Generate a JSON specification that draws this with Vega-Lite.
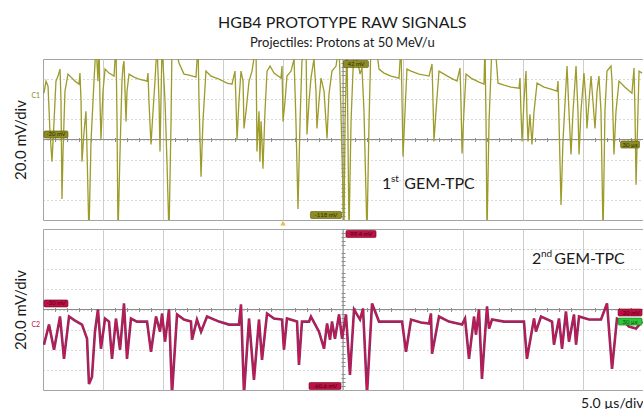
{
  "$schema": "https://vega.github.io/schema/vega-lite/v6.json",
  "background": "white",
  "padding": {"left": 12, "top": 15, "right": 0, "bottom": 0},
  "title": {
    "text": "HGB4 PROTOTYPE RAW SIGNALS",
    "subtitle": "Projectiles: Protons at 50 MeV/u",
    "font": "Lato", "fontSize": 16, "fontWeight": "normal", "color": "#1a1a1a",
    "subtitleFont": "Lato", "subtitleFontSize": 13, "subtitleColor": "#1a1a1a",
    "subtitlePadding": 6, "anchor": "middle", "dx": 14, "offset": 8
  },
  "bounds": "flush",
  "spacing": 9,
  "datasets": {
    "gem1": [{"t":0.08,"mv":46},{"t":0.25,"mv":58},{"t":0.42,"mv":53},{"t":0.58,"mv":8},{"t":0.75,"mv":-22},{"t":0.92,"mv":18},{"t":1.08,"mv":58},{"t":1.25,"mv":63},{"t":1.42,"mv":70},{"t":1.5,"mv":38},{"t":1.58,"mv":-59},{"t":1.67,"mv":-12},{"t":1.83,"mv":48},{"t":2.08,"mv":65},{"t":2.33,"mv":62},{"t":2.67,"mv":58},{"t":3.0,"mv":55},{"t":3.08,"mv":66},{"t":3.17,"mv":38},{"t":3.25,"mv":-22},{"t":3.42,"mv":8},{"t":3.58,"mv":28},{"t":3.67,"mv":-12},{"t":3.83,"mv":-95},{"t":4.0,"mv":-2},{"t":4.25,"mv":58},{"t":4.42,"mv":95},{"t":4.58,"mv":58},{"t":4.67,"mv":95},{"t":4.75,"mv":38},{"t":4.83,"mv":0},{"t":5.0,"mv":48},{"t":5.17,"mv":70},{"t":5.5,"mv":66},{"t":5.92,"mv":63},{"t":6.08,"mv":95},{"t":6.17,"mv":18},{"t":6.25,"mv":-95},{"t":6.42,"mv":-12},{"t":6.58,"mv":58},{"t":6.67,"mv":73},{"t":6.75,"mv":78},{"t":6.92,"mv":18},{"t":7.0,"mv":48},{"t":7.17,"mv":65},{"t":7.58,"mv":62},{"t":8.0,"mv":60},{"t":8.67,"mv":58},{"t":8.75,"mv":66},{"t":8.83,"mv":38},{"t":9.0,"mv":-5},{"t":9.17,"mv":28},{"t":9.33,"mv":58},{"t":9.5,"mv":95},{"t":9.67,"mv":38},{"t":9.75,"mv":-12},{"t":9.83,"mv":38},{"t":9.92,"mv":95},{"t":10.17,"mv":38},{"t":10.33,"mv":-22},{"t":10.5,"mv":-95},{"t":10.67,"mv":18},{"t":10.75,"mv":95},{"t":11.0,"mv":95},{"t":11.33,"mv":76},{"t":11.75,"mv":65},{"t":12.17,"mv":64},{"t":12.75,"mv":62},{"t":12.92,"mv":95},{"t":13.0,"mv":38},{"t":13.17,"mv":-37},{"t":13.33,"mv":18},{"t":13.58,"mv":68},{"t":14.0,"mv":63},{"t":14.67,"mv":60},{"t":15.33,"mv":56},{"t":15.75,"mv":55},{"t":16.0,"mv":68},{"t":16.08,"mv":38},{"t":16.17,"mv":0},{"t":16.33,"mv":38},{"t":16.5,"mv":68},{"t":16.67,"mv":58},{"t":16.75,"mv":11},{"t":16.92,"mv":28},{"t":17.17,"mv":58},{"t":17.42,"mv":68},{"t":17.75,"mv":95},{"t":17.83,"mv":-12},{"t":18.0,"mv":28},{"t":18.08,"mv":-22},{"t":18.17,"mv":18},{"t":18.25,"mv":-2},{"t":18.33,"mv":-29},{"t":18.5,"mv":28},{"t":18.67,"mv":68},{"t":18.92,"mv":73},{"t":19.25,"mv":66},{"t":19.83,"mv":61},{"t":19.92,"mv":73},{"t":20.0,"mv":18},{"t":20.17,"mv":38},{"t":20.33,"mv":63},{"t":20.67,"mv":68},{"t":20.92,"mv":80},{"t":21.08,"mv":18},{"t":21.25,"mv":-69},{"t":21.42,"mv":18},{"t":21.58,"mv":78},{"t":21.92,"mv":95},{"t":22.0,"mv":5},{"t":22.17,"mv":38},{"t":22.33,"mv":61},{"t":22.58,"mv":80},{"t":22.75,"mv":48},{"t":22.83,"mv":11},{"t":23.0,"mv":38},{"t":23.17,"mv":61},{"t":23.42,"mv":48},{"t":23.67,"mv":1},{"t":23.83,"mv":45},{"t":24.08,"mv":68},{"t":24.42,"mv":73},{"t":24.67,"mv":95},{"t":24.83,"mv":28},{"t":25.08,"mv":-95},{"t":25.17,"mv":18},{"t":25.33,"mv":95},{"t":25.5,"mv":-95},{"t":25.67,"mv":18},{"t":25.92,"mv":95},{"t":26.17,"mv":78},{"t":26.33,"mv":71},{"t":26.42,"mv":65},{"t":26.58,"mv":71},{"t":26.75,"mv":28},{"t":26.83,"mv":-12},{"t":27.0,"mv":-95},{"t":27.17,"mv":18},{"t":27.33,"mv":95},{"t":27.75,"mv":95},{"t":28.0,"mv":70},{"t":28.42,"mv":66},{"t":29.0,"mv":63},{"t":29.67,"mv":61},{"t":29.83,"mv":95},{"t":29.92,"mv":38},{"t":30.0,"mv":-17},{"t":30.17,"mv":28},{"t":30.33,"mv":70},{"t":30.67,"mv":68},{"t":31.33,"mv":65},{"t":32.17,"mv":63},{"t":32.42,"mv":75},{"t":32.5,"mv":38},{"t":32.58,"mv":-2},{"t":32.75,"mv":28},{"t":33.0,"mv":68},{"t":33.42,"mv":65},{"t":34.0,"mv":61},{"t":34.5,"mv":58},{"t":34.75,"mv":71},{"t":34.83,"mv":38},{"t":34.92,"mv":-14},{"t":35.08,"mv":28},{"t":35.25,"mv":65},{"t":35.67,"mv":61},{"t":36.33,"mv":57},{"t":36.75,"mv":55},{"t":36.83,"mv":95},{"t":36.92,"mv":18},{"t":37.0,"mv":-95},{"t":37.17,"mv":18},{"t":37.42,"mv":95},{"t":37.67,"mv":95},{"t":37.92,"mv":56},{"t":38.42,"mv":54},{"t":39.0,"mv":52},{"t":39.67,"mv":51},{"t":39.75,"mv":61},{"t":39.83,"mv":28},{"t":39.92,"mv":-2},{"t":40.08,"mv":38},{"t":40.25,"mv":68},{"t":40.33,"mv":25},{"t":40.42,"mv":-2},{"t":40.58,"mv":25},{"t":40.75,"mv":-5},{"t":40.92,"mv":28},{"t":41.17,"mv":56},{"t":41.75,"mv":52},{"t":42.33,"mv":50},{"t":42.83,"mv":48},{"t":42.92,"mv":58},{"t":43.0,"mv":18},{"t":43.17,"mv":-65},{"t":43.33,"mv":-2},{"t":43.67,"mv":73},{"t":43.83,"mv":28},{"t":44.0,"mv":-15},{"t":44.17,"mv":28},{"t":44.42,"mv":73},{"t":44.58,"mv":28},{"t":44.67,"mv":-15},{"t":44.83,"mv":28},{"t":45.08,"mv":66},{"t":45.25,"mv":38},{"t":45.33,"mv":11},{"t":45.5,"mv":38},{"t":45.67,"mv":63},{"t":45.83,"mv":38},{"t":46.0,"mv":11},{"t":46.17,"mv":48},{"t":46.33,"mv":63},{"t":46.5,"mv":28},{"t":46.67,"mv":-95},{"t":46.83,"mv":28},{"t":47.0,"mv":68},{"t":47.33,"mv":73},{"t":47.42,"mv":58},{"t":47.58,"mv":-15},{"t":47.75,"mv":28},{"t":48.0,"mv":58},{"t":48.5,"mv":52},{"t":49.08,"mv":46},{"t":49.25,"mv":71},{"t":49.33,"mv":28},{"t":49.42,"mv":-45},{"t":49.58,"mv":28},{"t":49.67,"mv":68},{"t":49.92,"mv":66}],
    "gem2": [{"t":0.08,"mv":-35},{"t":0.5,"mv":-15},{"t":0.92,"mv":-40},{"t":1.42,"mv":-7},{"t":1.75,"mv":-49},{"t":2.17,"mv":-7},{"t":2.67,"mv":-11},{"t":3.25,"mv":-15},{"t":3.67,"mv":-29},{"t":3.83,"mv":-74},{"t":4.08,"mv":-67},{"t":4.33,"mv":-22},{"t":4.58,"mv":0},{"t":4.83,"mv":-39},{"t":5.17,"mv":-9},{"t":5.5,"mv":-12},{"t":5.75,"mv":-49},{"t":6.08,"mv":-9},{"t":6.42,"mv":-40},{"t":6.75,"mv":6},{"t":7.0,"mv":-49},{"t":7.33,"mv":-9},{"t":7.83,"mv":-12},{"t":8.67,"mv":-12},{"t":9.0,"mv":-42},{"t":9.42,"mv":-7},{"t":9.75,"mv":-22},{"t":9.92,"mv":-4},{"t":10.17,"mv":-32},{"t":10.5,"mv":0},{"t":10.75,"mv":-84},{"t":11.17,"mv":-5},{"t":11.75,"mv":-10},{"t":12.33,"mv":-12},{"t":12.42,"mv":-30},{"t":12.83,"mv":-10},{"t":13.17,"mv":-22},{"t":13.67,"mv":-7},{"t":14.67,"mv":-12},{"t":15.5,"mv":-15},{"t":16.33,"mv":-15},{"t":16.5,"mv":5},{"t":16.75,"mv":-84},{"t":17.17,"mv":-9},{"t":17.58,"mv":-70},{"t":18.0,"mv":-10},{"t":18.25,"mv":-50},{"t":18.67,"mv":-4},{"t":19.25,"mv":-9},{"t":19.92,"mv":-10},{"t":20.08,"mv":-40},{"t":20.33,"mv":-9},{"t":21.17,"mv":-12},{"t":21.33,"mv":-55},{"t":21.58,"mv":-12},{"t":22.17,"mv":-12},{"t":22.33,"mv":-7},{"t":23.0,"mv":-22},{"t":23.42,"mv":-39},{"t":23.67,"mv":-14},{"t":23.92,"mv":-30},{"t":24.08,"mv":-12},{"t":24.33,"mv":-29},{"t":24.67,"mv":-5},{"t":24.92,"mv":-29},{"t":25.25,"mv":-5},{"t":25.58,"mv":-65},{"t":25.92,"mv":0},{"t":26.42,"mv":-10},{"t":26.67,"mv":1},{"t":27.0,"mv":-84},{"t":27.42,"mv":6},{"t":28.0,"mv":-12},{"t":29.0,"mv":-12},{"t":29.92,"mv":-12},{"t":30.25,"mv":-42},{"t":30.67,"mv":-10},{"t":31.5,"mv":-13},{"t":32.17,"mv":-14},{"t":32.33,"mv":-4},{"t":32.42,"mv":-44},{"t":33.0,"mv":-7},{"t":33.83,"mv":-12},{"t":34.92,"mv":-15},{"t":35.17,"mv":-9},{"t":35.5,"mv":-49},{"t":35.92,"mv":-7},{"t":36.08,"mv":-25},{"t":36.33,"mv":0},{"t":36.58,"mv":-69},{"t":37.0,"mv":3},{"t":37.17,"mv":-19},{"t":37.42,"mv":-10},{"t":38.42,"mv":-12},{"t":40.08,"mv":-12},{"t":40.33,"mv":-49},{"t":40.92,"mv":-9},{"t":41.08,"mv":-22},{"t":41.5,"mv":-7},{"t":42.42,"mv":-12},{"t":42.58,"mv":-35},{"t":43.0,"mv":-9},{"t":43.25,"mv":-39},{"t":43.58,"mv":-2},{"t":43.83,"mv":-32},{"t":44.25,"mv":-5},{"t":44.42,"mv":-35},{"t":44.67,"mv":-7},{"t":45.5,"mv":-10},{"t":46.5,"mv":-10},{"t":47.0,"mv":6},{"t":47.42,"mv":-59},{"t":47.83,"mv":-9},{"t":48.42,"mv":-12},{"t":48.83,"mv":-17},{"t":49.42,"mv":-19},{"t":49.92,"mv":-12}],
    "tags1": [{"t":1.08,"mv":5,"label":"-20 mV"},{"t":26.08,"mv":75,"label":"42 mV"},{"t":23.58,"mv":-75,"label":"-118 mV"},{"t":48.92,"mv":-5,"label":"30 µs"}],
    "tags2": [{"t":1.08,"mv":6,"label":"-20 mV"},{"t":26.5,"mv":75,"label":"99.4 mV"},{"t":23.5,"mv":-76,"label":"-60.6 mV"},{"t":48.92,"mv":-3,"label":"-20 mV"}],
    "green": [{"t":48.92,"mv":-12,"label":"30 µs"}]
  },
  "vconcat": [
    {
      "width": 600,
      "height": 161,
      "resolve": {"axis": {"x": "independent", "y": "independent"}},
      "layer": [
        {
          "data": {"values": [{}]},
          "mark": {"type": "rule", "color": "#8e8e8e", "strokeWidth": 1},
          "encoding": {
            "y": {"datum": 0, "type": "quantitative",
              "scale": {"domain": [-80, 80], "nice": false, "zero": false},
              "axis": {"values": [-60, -40, -20, 0, 20, 40, 60], "grid": true, "gridColor": "#b4b4b4", "gridDash": [1, 3],
                "labels": false, "ticks": false, "domain": false,
                "title": "20.0 mV/div", "titleFont": "Lato", "titleFontSize": 15, "titleFontWeight": "normal", "titleColor": "#1a1a1a", "titlePadding": 15}}
          }
        },
        {
          "data": {"values": [{}]},
          "mark": {"type": "rule", "color": "#8e8e8e", "strokeWidth": 1},
          "encoding": {
            "x": {"datum": 25, "type": "quantitative",
              "scale": {"domain": [0, 50], "nice": false, "zero": false},
              "axis": {"values": [5, 10, 15, 20, 25, 30, 35, 40, 45], "grid": true, "gridColor": "#cdcdcd",
                "labels": false, "ticks": false, "domain": false, "title": null}}
          }
        },
        {
          "data": {"values": [{}]},
          "mark": {"type": "rule", "opacity": 0},
          "encoding": {
            "x": {"datum": 25, "type": "quantitative",
              "axis": {"orient": "top", "offset": -82.5, "values": [1,2,3,4,6,7,8,9,11,12,13,14,16,17,18,19,21,22,23,24,26,27,28,29,31,32,33,34,36,37,38,39,41,42,43,44,46,47,48,49],
                "ticks": true, "tickSize": 4, "tickColor": "#8e8e8e", "labels": false, "domain": false, "grid": false, "title": null}},
            "y": {"datum": 0, "type": "quantitative",
              "axis": {"orient": "right", "offset": -302, "values": [-76,-72,-68,-64,-56,-52,-48,-44,-36,-32,-28,-24,-16,-12,-8,-4,4,8,12,16,24,28,32,36,44,48,52,56,64,68,72,76],
                "ticks": true, "tickSize": 4, "tickColor": "#8e8e8e", "labels": false, "domain": false, "grid": false, "title": null}}
          }
        },
        {
          "data": {"name": "gem1"},
          "mark": {"type": "line", "color": "#9d9b2a", "strokeWidth": 1.3, "clip": true},
          "encoding": {
            "x": {"field": "t", "type": "quantitative", "axis": null},
            "y": {"field": "mv", "type": "quantitative", "axis": null}
          }
        },
        {
          "data": {"name": "tags1"},
          "mark": {"type": "point", "filled": true, "size": 1024, "color": "#8f8d22", "stroke": "#55540e", "strokeWidth": 0.6, "opacity": 1},
          "encoding": {
            "x": {"field": "t", "type": "quantitative", "axis": null},
            "y": {"field": "mv", "type": "quantitative", "axis": null},
            "shape": {"field": "label", "type": "nominal", "legend": null,
              "scale": {"domain": ["-20 mV", "42 mV", "-118 mV", "30 µs", "99.4 mV", "-60.6 mV"],
                "range": [
                  "M-0.67,-0.22H0.67Q0.75,-0.22 0.75,-0.14V0.14Q0.75,0.22 0.67,0.22H-0.67Q-0.75,0.22 -0.75,0.14V-0.14Q-0.75,-0.22 -0.67,-0.22Z",
                  "M-0.7,-0.22H0.7Q0.78,-0.22 0.78,-0.14V0.14Q0.78,0.22 0.7,0.22H-0.7Q-0.78,0.22 -0.78,0.14V-0.14Q-0.78,-0.22 -0.7,-0.22Z",
                  "M-0.89,-0.22H0.89Q0.97,-0.22 0.97,-0.14V0.14Q0.97,0.22 0.89,0.22H-0.89Q-0.97,0.22 -0.97,0.14V-0.14Q-0.97,-0.22 -0.89,-0.22Z",
                  "M-0.51,-0.22H0.51Q0.59,-0.22 0.59,-0.14V0.14Q0.59,0.22 0.51,0.22H-0.51Q-0.59,0.22 -0.59,0.14V-0.14Q-0.59,-0.22 -0.51,-0.22Z",
                  "M-0.86,-0.22H0.86Q0.94,-0.22 0.94,-0.14V0.14Q0.94,0.22 0.86,0.22H-0.86Q-0.94,0.22 -0.94,0.14V-0.14Q-0.94,-0.22 -0.86,-0.22Z",
                  "M-0.92,-0.22H0.92Q1,-0.22 1,-0.14V0.14Q1,0.22 0.92,0.22H-0.92Q-1,0.22 -1,0.14V-0.14Q-1,-0.22 -0.92,-0.22Z"
                ]}}
          }
        },
        {
          "data": {"name": "tags1"},
          "mark": {"type": "text", "font": "Lato", "fontSize": 6, "color": "#2e2d05", "baseline": "middle"},
          "encoding": {
            "x": {"field": "t", "type": "quantitative", "axis": null},
            "y": {"field": "mv", "type": "quantitative", "axis": null},
            "text": {"field": "label"}
          }
        },
        {
          "data": {"values": [{"t": -0.6, "mv": 43, "label": "C1"}]},
          "mark": {"type": "text", "font": "Lato", "fontSize": 7, "color": "#8f8d22", "baseline": "middle", "clip": false},
          "encoding": {
            "x": {"field": "t", "type": "quantitative", "axis": null},
            "y": {"field": "mv", "type": "quantitative", "axis": null},
            "text": {"field": "label"}
          }
        },
        {
          "data": {"values": [{"t": 20, "mv": -83}]},
          "mark": {"type": "point", "shape": "triangle-up", "filled": true, "size": 30, "color": "#e0a000", "clip": false},
          "encoding": {
            "x": {"field": "t", "type": "quantitative", "axis": null},
            "y": {"field": "mv", "type": "quantitative", "axis": null}
          }
        },
        {
          "data": {"values": [{"t": 28.25, "mv": -49, "label": "1"}, {"t": 30.1, "mv": -49, "label": "GEM-TPC"}]},
          "mark": {"type": "text", "font": "Lato", "fontSize": 16, "color": "#1a1a1a", "align": "left", "baseline": "alphabetic"},
          "encoding": {
            "x": {"field": "t", "type": "quantitative", "axis": null},
            "y": {"field": "mv", "type": "quantitative", "axis": null},
            "text": {"field": "label"}
          }
        },
        {
          "data": {"values": [{"t": 29.0, "mv": -42, "label": "st"}]},
          "mark": {"type": "text", "font": "Lato", "fontSize": 10, "color": "#1a1a1a", "align": "left", "baseline": "alphabetic"},
          "encoding": {
            "x": {"field": "t", "type": "quantitative", "axis": null},
            "y": {"field": "mv", "type": "quantitative", "axis": null},
            "text": {"field": "label"}
          }
        }
      ]
    },
    {
      "width": 600,
      "height": 161,
      "resolve": {"axis": {"x": "independent", "y": "independent"}},
      "layer": [
        {
          "data": {"values": [{}]},
          "mark": {"type": "rule", "color": "#8e8e8e", "strokeWidth": 1},
          "encoding": {
            "y": {"datum": 0, "type": "quantitative",
              "scale": {"domain": [-80, 80], "nice": false, "zero": false},
              "axis": {"values": [-60, -40, -20, 0, 20, 40, 60], "grid": true, "gridColor": "#b4b4b4", "gridDash": [1, 3],
                "labels": false, "ticks": false, "domain": false,
                "title": "20.0 mV/div", "titleFont": "Lato", "titleFontSize": 15, "titleFontWeight": "normal", "titleColor": "#1a1a1a", "titlePadding": 15}}
          }
        },
        {
          "data": {"values": [{}]},
          "mark": {"type": "rule", "color": "#8e8e8e", "strokeWidth": 1},
          "encoding": {
            "x": {"datum": 25, "type": "quantitative",
              "scale": {"domain": [0, 50], "nice": false, "zero": false},
              "axis": {"values": [5, 10, 15, 20, 25, 30, 35, 40, 45], "grid": true, "gridColor": "#cdcdcd",
                "labels": false, "ticks": false, "domain": false,
                "title": "5.0 µs/div", "titleFont": "Lato", "titleFontSize": 14, "titleFontWeight": "normal", "titleColor": "#1a1a1a",
                "titleAnchor": "end", "titlePadding": 6}}
          }
        },
        {
          "data": {"values": [{}]},
          "mark": {"type": "rule", "opacity": 0},
          "encoding": {
            "x": {"datum": 25, "type": "quantitative",
              "axis": {"orient": "top", "offset": -82.5, "values": [1,2,3,4,6,7,8,9,11,12,13,14,16,17,18,19,21,22,23,24,26,27,28,29,31,32,33,34,36,37,38,39,41,42,43,44,46,47,48,49],
                "ticks": true, "tickSize": 4, "tickColor": "#8e8e8e", "labels": false, "domain": false, "grid": false, "title": null}},
            "y": {"datum": 0, "type": "quantitative",
              "axis": {"orient": "right", "offset": -302, "values": [-76,-72,-68,-64,-56,-52,-48,-44,-36,-32,-28,-24,-16,-12,-8,-4,4,8,12,16,24,28,32,36,44,48,52,56,64,68,72,76],
                "ticks": true, "tickSize": 4, "tickColor": "#8e8e8e", "labels": false, "domain": false, "grid": false, "title": null}}
          }
        },
        {
          "data": {"name": "gem2"},
          "mark": {"type": "line", "color": "#7a3468", "strokeWidth": 2.6, "clip": true},
          "encoding": {
            "x": {"field": "t", "type": "quantitative", "axis": null},
            "y": {"field": "mv", "type": "quantitative", "axis": null}
          }
        },
        {
          "data": {"name": "gem2"},
          "mark": {"type": "line", "color": "#cc1450", "strokeWidth": 1.3, "clip": true},
          "encoding": {
            "x": {"field": "t", "type": "quantitative", "axis": null},
            "y": {"field": "mv", "type": "quantitative", "axis": null}
          }
        },
        {
          "data": {"name": "tags2"},
          "mark": {"type": "point", "filled": true, "size": 1024, "color": "#c01044", "stroke": "#6a0a22", "strokeWidth": 0.6, "opacity": 1},
          "encoding": {
            "x": {"field": "t", "type": "quantitative", "axis": null},
            "y": {"field": "mv", "type": "quantitative", "axis": null},
            "shape": {"field": "label", "type": "nominal", "legend": null,
              "scale": {"domain": ["-20 mV", "42 mV", "-118 mV", "30 µs", "99.4 mV", "-60.6 mV"],
                "range": [
                  "M-0.67,-0.22H0.67Q0.75,-0.22 0.75,-0.14V0.14Q0.75,0.22 0.67,0.22H-0.67Q-0.75,0.22 -0.75,0.14V-0.14Q-0.75,-0.22 -0.67,-0.22Z",
                  "M-0.7,-0.22H0.7Q0.78,-0.22 0.78,-0.14V0.14Q0.78,0.22 0.7,0.22H-0.7Q-0.78,0.22 -0.78,0.14V-0.14Q-0.78,-0.22 -0.7,-0.22Z",
                  "M-0.89,-0.22H0.89Q0.97,-0.22 0.97,-0.14V0.14Q0.97,0.22 0.89,0.22H-0.89Q-0.97,0.22 -0.97,0.14V-0.14Q-0.97,-0.22 -0.89,-0.22Z",
                  "M-0.51,-0.22H0.51Q0.59,-0.22 0.59,-0.14V0.14Q0.59,0.22 0.51,0.22H-0.51Q-0.59,0.22 -0.59,0.14V-0.14Q-0.59,-0.22 -0.51,-0.22Z",
                  "M-0.86,-0.22H0.86Q0.94,-0.22 0.94,-0.14V0.14Q0.94,0.22 0.86,0.22H-0.86Q-0.94,0.22 -0.94,0.14V-0.14Q-0.94,-0.22 -0.86,-0.22Z",
                  "M-0.92,-0.22H0.92Q1,-0.22 1,-0.14V0.14Q1,0.22 0.92,0.22H-0.92Q-1,0.22 -1,0.14V-0.14Q-1,-0.22 -0.92,-0.22Z"
                ]}}
          }
        },
        {
          "data": {"name": "tags2"},
          "mark": {"type": "text", "font": "Lato", "fontSize": 6, "color": "#4a0014", "baseline": "middle"},
          "encoding": {
            "x": {"field": "t", "type": "quantitative", "axis": null},
            "y": {"field": "mv", "type": "quantitative", "axis": null},
            "text": {"field": "label"}
          }
        },
        {
          "data": {"name": "green"},
          "mark": {"type": "point", "filled": true, "size": 1024, "color": "#2cc83a", "stroke": "#127018", "strokeWidth": 0.6, "opacity": 1,
            "shape": "M-0.67,-0.22H0.67Q0.75,-0.22 0.75,-0.14V0.14Q0.75,0.22 0.67,0.22H-0.67Q-0.75,0.22 -0.75,0.14V-0.14Q-0.75,-0.22 -0.67,-0.22Z"},
          "encoding": {
            "x": {"field": "t", "type": "quantitative", "axis": null},
            "y": {"field": "mv", "type": "quantitative", "axis": null}
          }
        },
        {
          "data": {"name": "green"},
          "mark": {"type": "text", "font": "Lato", "fontSize": 6, "color": "#0c4a10", "baseline": "middle"},
          "encoding": {
            "x": {"field": "t", "type": "quantitative", "axis": null},
            "y": {"field": "mv", "type": "quantitative", "axis": null},
            "text": {"field": "label"}
          }
        },
        {
          "data": {"values": [{"t": -0.6, "mv": -15, "label": "C2"}]},
          "mark": {"type": "text", "font": "Lato", "fontSize": 7, "color": "#c01044", "baseline": "middle", "clip": false},
          "encoding": {
            "x": {"field": "t", "type": "quantitative", "axis": null},
            "y": {"field": "mv", "type": "quantitative", "axis": null},
            "text": {"field": "label"}
          }
        },
        {
          "data": {"values": [{"t": 40.75, "mv": 45, "label": "2"}, {"t": 42.6, "mv": 45, "label": "GEM-TPC"}]},
          "mark": {"type": "text", "font": "Lato", "fontSize": 16, "color": "#1a1a1a", "align": "left", "baseline": "alphabetic"},
          "encoding": {
            "x": {"field": "t", "type": "quantitative", "axis": null},
            "y": {"field": "mv", "type": "quantitative", "axis": null},
            "text": {"field": "label"}
          }
        },
        {
          "data": {"values": [{"t": 41.5, "mv": 52, "label": "nd"}]},
          "mark": {"type": "text", "font": "Lato", "fontSize": 10, "color": "#1a1a1a", "align": "left", "baseline": "alphabetic"},
          "encoding": {
            "x": {"field": "t", "type": "quantitative", "axis": null},
            "y": {"field": "mv", "type": "quantitative", "axis": null},
            "text": {"field": "label"}
          }
        }
      ]
    }
  ],
  "config": {
    "view": {"stroke": "#a4a4a4", "strokeWidth": 1}
  }
}
